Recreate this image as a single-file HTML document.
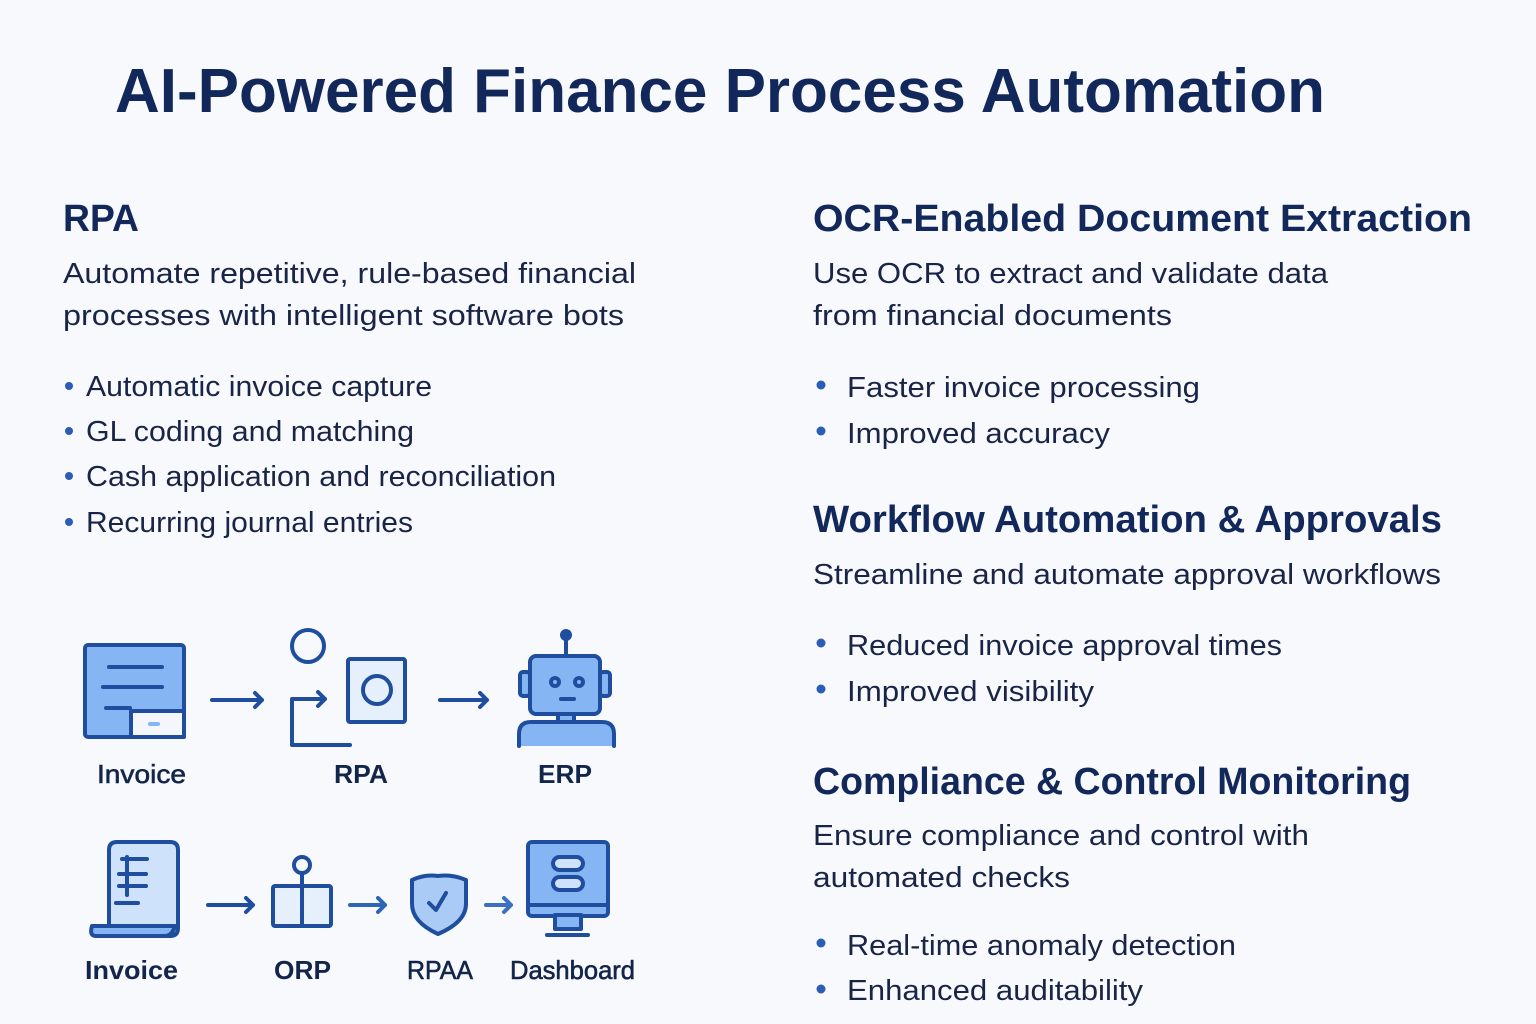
<!DOCTYPE html>
<html><head><meta charset="utf-8"><style>html,body{margin:0;padding:0;background:#f7f9fd}svg{display:block}</style></head><body>
<svg width="1536" height="1024" viewBox="0 0 1536 1024" xmlns="http://www.w3.org/2000/svg" font-family="Liberation Sans, sans-serif">
<rect width="1536" height="1024" fill="#f7f9fd"/>
<g fill="#13285a" font-weight="bold">
<text x="115" y="112" font-size="62" textLength="1210" lengthAdjust="spacingAndGlyphs">AI-Powered Finance Process Automation</text>
<text x="63" y="231" font-size="38" textLength="76" lengthAdjust="spacingAndGlyphs">RPA</text>
<text x="813" y="231" font-size="38" textLength="659" lengthAdjust="spacingAndGlyphs">OCR-Enabled Document Extraction</text>
<text x="813" y="532" font-size="38" textLength="629" lengthAdjust="spacingAndGlyphs">Workflow Automation &amp; Approvals</text>
<text x="813" y="794" font-size="38" textLength="598" lengthAdjust="spacingAndGlyphs">Compliance &amp; Control Monitoring</text>
</g>
<g fill="#1a2446" font-size="29">
<text x="63" y="283" textLength="573" lengthAdjust="spacingAndGlyphs">Automate repetitive, rule-based financial</text>
<text x="63" y="325" textLength="561" lengthAdjust="spacingAndGlyphs">processes with intelligent software bots</text>
<text x="86" y="396" textLength="346" lengthAdjust="spacingAndGlyphs">Automatic invoice capture</text>
<text x="86" y="441" textLength="328" lengthAdjust="spacingAndGlyphs">GL coding and matching</text>
<text x="86" y="486" textLength="470" lengthAdjust="spacingAndGlyphs">Cash application and reconciliation</text>
<text x="86" y="532" textLength="327" lengthAdjust="spacingAndGlyphs">Recurring journal entries</text>
<text x="813" y="283" textLength="515" lengthAdjust="spacingAndGlyphs">Use OCR to extract and validate data</text>
<text x="813" y="325" textLength="359" lengthAdjust="spacingAndGlyphs">from financial documents</text>
<text x="847" y="397" textLength="353" lengthAdjust="spacingAndGlyphs">Faster invoice processing</text>
<text x="847" y="443" textLength="263" lengthAdjust="spacingAndGlyphs">Improved accuracy</text>
<text x="813" y="584" textLength="628" lengthAdjust="spacingAndGlyphs">Streamline and automate approval workflows</text>
<text x="847" y="655" textLength="435" lengthAdjust="spacingAndGlyphs">Reduced invoice approval times</text>
<text x="847" y="701" textLength="247" lengthAdjust="spacingAndGlyphs">Improved visibility</text>
<text x="813" y="845" textLength="496" lengthAdjust="spacingAndGlyphs">Ensure compliance and control with</text>
<text x="813" y="887" textLength="257" lengthAdjust="spacingAndGlyphs">automated checks</text>
<text x="847" y="955" textLength="389" lengthAdjust="spacingAndGlyphs">Real-time anomaly detection</text>
<text x="847" y="1000" textLength="296" lengthAdjust="spacingAndGlyphs">Enhanced auditability</text>
</g>
<g fill="#2b5cb8">
<circle cx="69" cy="386" r="4"/><circle cx="69" cy="431" r="4"/><circle cx="69" cy="476" r="4"/><circle cx="69" cy="522" r="4"/>
<circle cx="821" cy="385" r="4.5"/><circle cx="821" cy="431" r="4.5"/><circle cx="821" cy="643" r="4.5"/><circle cx="821" cy="689" r="4.5"/><circle cx="821" cy="943" r="4.5"/><circle cx="821" cy="989" r="4.5"/>
</g>
<g stroke="#1f4e9e" stroke-width="4" fill="none" stroke-linecap="round" stroke-linejoin="round">
<!-- invoice 1 -->
<rect x="85" y="645" width="99" height="92" rx="3" fill="#85b6f3"/>
<rect x="131" y="711" width="53" height="26" fill="#f3f7fd"/>
<line x1="109" y1="667" x2="162" y2="667"/><line x1="103" y1="687" x2="162" y2="687"/><line x1="106" y1="708" x2="130" y2="708"/>
<line x1="150" y1="724" x2="158" y2="724" stroke="#85b6f3"/>
<!-- arrows -->
<path d="M212 700 H262 M255 693 L262 700 L255 707"/>
<path d="M440 700 H487 M480 693 L487 700 L480 707"/>
<!-- RPA -->
<circle cx="308" cy="646" r="16"/>
<rect x="321" y="659" width="0" height="0"/>
<rect x="348" y="659" width="57" height="63" rx="2" fill="#e6f0fc"/>
<circle cx="377" cy="690" r="14"/>
<path d="M350 745 H292 V699 H325 M318 692 L325 699 L318 706"/>
<!-- robot -->
<line x1="566" y1="636" x2="566" y2="656"/><circle cx="566" cy="635" r="4" fill="#1f4e9e"/>
<rect x="520" y="672" width="10" height="24" rx="3" fill="#85b6f3"/>
<rect x="600" y="672" width="10" height="24" rx="3" fill="#85b6f3"/>
<rect x="530" y="656" width="70" height="58" rx="6" fill="#85b6f3"/>
<circle cx="555" cy="682" r="4"/><circle cx="579" cy="682" r="4"/><line x1="561" y1="699" x2="574" y2="699"/>
<rect x="558" y="714" width="16" height="8" fill="#85b6f3"/>
<path d="M519 746 V734 Q519 722 531 722 H602 Q614 722 614 734 V746" fill="#85b6f3"/>
<!-- row 2 -->
<path d="M109 850 Q109 842 117 842 H170 Q178 842 178 850 V928 Q178 936 170 936 H109 Z" fill="#cfe2fb"/>
<path d="M92 926 H175 Q172 936 165 936 H96 Q89 936 92 926 Z" fill="#85b6f3"/>
<line x1="122" y1="859" x2="147" y2="859"/><line x1="119" y1="874" x2="146" y2="874"/><line x1="119" y1="886" x2="146" y2="886"/><line x1="127" y1="857" x2="127" y2="895"/><line x1="116" y1="903" x2="138" y2="903"/>
<path d="M208 905 H253 M246 898 L253 905 L246 912"/>
<circle cx="302" cy="865" r="8"/><line x1="302" y1="873" x2="302" y2="925"/>
<rect x="273" y="886" width="58" height="40" rx="2" fill="#e6f0fc"/><line x1="302" y1="886" x2="302" y2="926"/>
<path d="M350 905 H385 M378 898 L385 905 L378 912" stroke="#2c64b8"/>
<path d="M418 886 Q411 905 430 925" />
<path d="M438 876 Q452 874 466 880 V904 Q466 922 438 934 Q412 922 412 904 V880 Q425 874 438 876 Z" fill="#a9cbf6"/>
<path d="M429 903 L436 910 L446 893"/>
<path d="M486 905 H511 M504 898 L511 905 L504 912" stroke="#3a70bf"/>
<rect x="528" y="842" width="80" height="74" rx="4" fill="#85b6f3"/>
<line x1="530" y1="905" x2="606" y2="905"/>
<rect x="555" y="915" width="26" height="14" fill="#85b6f3"/><line x1="547" y1="935" x2="588" y2="935"/>
<rect x="553" y="857" width="30" height="13" rx="6.5" fill="#cfe2fb"/><rect x="553" y="877" width="30" height="13" rx="6.5" fill="#cfe2fb"/>
</g>
<g fill="#13254a" font-size="26" font-weight="bold">
<text x="97" y="783" textLength="89" lengthAdjust="spacingAndGlyphs" font-weight="normal" stroke="#13254a" stroke-width="0.6">Invoice</text>
<text x="334" y="783" textLength="54" lengthAdjust="spacingAndGlyphs">RPA</text>
<text x="538" y="783" textLength="54" lengthAdjust="spacingAndGlyphs">ERP</text>
<text x="85" y="979" textLength="93" lengthAdjust="spacingAndGlyphs">Invoice</text>
<text x="274" y="979" textLength="57" lengthAdjust="spacingAndGlyphs">ORP</text>
<text x="407" y="979" textLength="66" lengthAdjust="spacingAndGlyphs" font-weight="normal" stroke="#13254a" stroke-width="0.6">RPAA</text>
<text x="510" y="979" textLength="125" lengthAdjust="spacingAndGlyphs" font-weight="normal" stroke="#13254a" stroke-width="0.6">Dashboard</text>
</g>
</svg>
</body></html>
